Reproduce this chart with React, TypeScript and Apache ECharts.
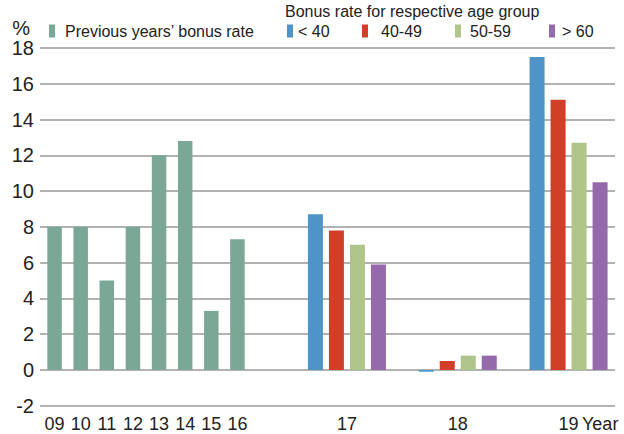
import React, { useEffect, useRef } from "react";
import * as echarts from "echarts";

// ---- data ----
const previousYears = ["09", "10", "11", "12", "13", "14", "15", "16"];
const previousRates = [8, 8, 5, 8, 12, 12.8, 3.3, 7.3];

const groupYears = ["17", "18", "19"];
const under40 = [8.7, -0.1, 17.5];
const age40to49 = [7.8, 0.5, 15.1];
const age50to59 = [7.0, 0.8, 12.7];
const over60 = [5.9, 0.8, 10.5];

const yMin = -2;
const yMax = 18;
const yStep = 2;

const previousName = "Previous years’ bonus rate";
const groupNames = ["< 40", "40-49", "50-59", "> 60"];
const groupTitle = "Bonus rate for respective age group";

const colors = {
  previous: "#7ba896",
  under40: "#4f94c7",
  age40to49: "#d13f28",
  age50to59: "#afc58a",
  over60: "#946aaa",
};

const FONT = "Liberation Sans, Arial, sans-serif";
const TEXT = "#222222";

export default function App() {
  const ref = useRef<HTMLDivElement>(null);

  useEffect(() => {
    if (!ref.current) return;
    const chart = echarts.init(ref.current, null, { renderer: "svg" });

    const gridTop = 48;
    const gridBottom = 28.3;

    const hiddenY = (gridIndex: number) => ({
      type: "value" as const,
      gridIndex,
      min: yMin,
      max: yMax,
      interval: yStep,
      show: false,
    });

    const legendCommon = {
      top: 23,
      padding: 0,
      icon: "rect",
      itemWidth: 6,
      itemHeight: 13,
      selectedMode: false,
    };
    const legendText = (pad: number) => ({
      fontSize: 16,
      fontFamily: FONT,
      color: TEXT,
      padding: [0, 0, 0, pad],
    });

    const groupSeries = [under40, age40to49, age50to59, over60];
    const groupColors = [colors.under40, colors.age40to49, colors.age50to59, colors.over60];

    chart.setOption({
      animation: false,
      textStyle: { fontFamily: FONT },
      title: {
        text: groupTitle,
        left: 285,
        top: 3,
        padding: 0,
        textStyle: { fontSize: 16, fontWeight: "normal", fontFamily: FONT, color: TEXT },
      },
      legend: [
        { ...legendCommon, left: 49, data: [previousName], textStyle: legendText(5) },
        { ...legendCommon, left: 287, data: [groupNames[0]], textStyle: legendText(0) },
        { ...legendCommon, left: 362, data: [groupNames[1]], textStyle: legendText(8) },
        { ...legendCommon, left: 455, data: [groupNames[2]], textStyle: legendText(4) },
        { ...legendCommon, left: 549, data: [groupNames[3]], textStyle: legendText(2) },
      ],
      grid: [
        { left: 40, right: 9, top: gridTop, bottom: gridBottom },
        { left: 41.5, width: 209, top: gridTop, bottom: gridBottom },
        { left: 291.5, width: 333, top: gridTop, bottom: gridBottom },
      ],
      xAxis: [
        { type: "category", gridIndex: 0, data: [""], show: false },
        {
          type: "category",
          gridIndex: 1,
          data: previousYears,
          axisLine: { show: false },
          axisTick: { show: false },
          axisLabel: { fontSize: 18, color: TEXT, margin: 9, fontFamily: FONT },
        },
        {
          type: "category",
          gridIndex: 2,
          data: groupYears,
          axisLine: { show: false },
          axisTick: { show: false },
          axisLabel: { fontSize: 18, color: TEXT, margin: 9, fontFamily: FONT },
        },
      ],
      yAxis: [
        {
          type: "value",
          gridIndex: 0,
          min: yMin,
          max: yMax,
          interval: yStep,
          name: "%",
          nameLocation: "end",
          nameGap: 19,
          nameTextStyle: {
            fontSize: 20,
            color: TEXT,
            fontFamily: FONT,
            align: "right",
            verticalAlign: "middle",
            padding: [0, 10, 0, 0],
          },
          axisLine: { show: false },
          axisTick: { show: false },
          axisLabel: { fontSize: 20, color: TEXT, margin: 6, fontFamily: FONT },
          splitLine: { show: true, lineStyle: { color: "#9a9a9a", width: 1.5 } },
        },
        hiddenY(1),
        hiddenY(2),
      ],
      series: [
        {
          name: previousName,
          type: "bar",
          xAxisIndex: 1,
          yAxisIndex: 1,
          data: previousRates,
          barWidth: 14.5,
          itemStyle: { color: colors.previous },
        },
        ...groupSeries.map((values, i) => ({
          name: groupNames[i],
          type: "bar",
          xAxisIndex: 2,
          yAxisIndex: 2,
          data: values,
          barWidth: 15,
          barGap: "40%",
          itemStyle: { color: groupColors[i] },
        })),
      ],
      graphic: [
        {
          type: "text",
          left: 582,
          top: 415,
          style: { text: "Year", fontSize: 18, fontFamily: FONT, fill: TEXT },
        },
      ],
    });

    return () => chart.dispose();
  }, []);

  return (
    <div
      ref={ref}
      style={{ position: "absolute", left: 0, top: 0, width: 624, height: 434, background: "#fff" }}
    />
  );
}
